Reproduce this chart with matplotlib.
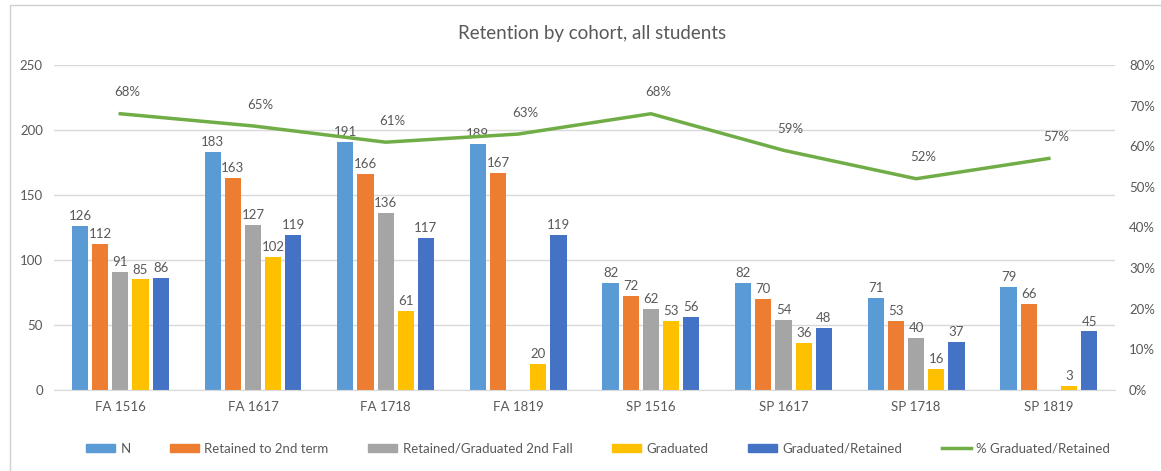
import numpy as np
import matplotlib
matplotlib.use("Agg")
import matplotlib.pyplot as plt
from matplotlib.patches import Rectangle
from matplotlib.lines import Line2D

plt.rcParams["font.family"] = ["Lato", "DejaVu Sans"]

cohorts = ["FA 1516", "FA 1617", "FA 1718", "FA 1819",
           "SP 1516", "SP 1617", "SP 1718", "SP 1819"]
n_students = [126, 183, 191, 189, 82, 82, 71, 79]
retained_2nd_term = [112, 163, 166, 167, 72, 70, 53, 66]
retained_grad_2nd_fall = [91, 127, 136, np.nan, 62, 54, 40, np.nan]
graduated = [85, 102, 61, 20, 53, 36, 16, 3]
grad_retained = [86, 119, 117, 119, 56, 48, 37, 45]
pct_grad_retained = [68, 65, 61, 63, 68, 59, 52, 57]

series = [
    ("N", n_students, "#5B9BD5"),
    ("Retained to 2nd term", retained_2nd_term, "#ED7D31"),
    ("Retained/Graduated 2nd Fall", retained_grad_2nd_fall, "#A5A5A5"),
    ("Graduated", graduated, "#FFC000"),
    ("Graduated/Retained", grad_retained, "#4472C4"),
]
line_color = "#70AD47"
txt = "#595959"
grid = "#D9D9D9"

fig = plt.figure(figsize=(11.61, 4.71), dpi=100)
# chart border
fig.patches.append(Rectangle((0.009, -0.01), 1.0, 1.0, transform=fig.transFigure,
                             fill=False, edgecolor="#D0D0D0", lw=1.0))

ax = fig.add_axes([0.0465, 0.172, 0.914, 0.69])
x = np.arange(len(cohorts))
w = 0.122
step = 0.152
for i, (name, vals, col) in enumerate(series):
    xs = x + (i - 2) * step
    ax.bar(xs, vals, width=w, color=col, zorder=2)
    for xi, v in zip(xs, vals):
        if np.isnan(v):
            continue
        ax.text(xi, v + 3, f"{int(v)}", ha="center", va="bottom",
                fontsize=9.5, color=txt)

ax.set_xlim(-0.5, len(cohorts) - 0.5)
ax.set_ylim(0, 250)
ax.set_yticks(range(0, 251, 50))
ax.set_xticks(x)
ax.set_xticklabels(cohorts)
ax.yaxis.grid(True, color=grid, lw=1, zorder=0)
ax.set_axisbelow(True)
for s in ["top", "right", "left"]:
    ax.spines[s].set_visible(False)
ax.spines["bottom"].set_color(grid)
ax.tick_params(axis="both", length=0, labelsize=9.5, colors=txt, pad=8)
ax.tick_params(axis="y", pad=8)

ax2 = ax.twinx()
ax2.plot(x, pct_grad_retained, color=line_color, lw=2.5, zorder=3)
for xi, v in zip(x, pct_grad_retained):
    ax2.annotate(f"{v}%", (xi, v), xytext=(5, 11), textcoords="offset points",
                 ha="center", va="bottom", fontsize=9.5, color=txt)
ax2.set_ylim(0, 80)
ax2.set_yticks(range(0, 81, 10))
ax2.set_yticklabels([f"{t}%" for t in range(0, 81, 10)])
ax2.tick_params(axis="y", length=0, labelsize=9.5, colors=txt, pad=10)
for s in ax2.spines.values():
    s.set_visible(False)

fig.text(0.51, 0.928, "Retention by cohort, all students", ha="center",
         va="center", fontsize=13.5, color=txt)

handles = [Rectangle((0, 0), 1, 1, color=c) for _, _, c in series]
handles.append(Line2D([0], [0], color=line_color, lw=2.5))
labels = [s[0] for s in series] + ["% Graduated/Retained"]
fig.legend(handles, labels, loc="center", bbox_to_anchor=(0.515, 0.047), ncol=6,
           frameon=False, fontsize=9.5, labelcolor=txt, handlelength=2.2,
           handleheight=0.6, columnspacing=3.0, handletextpad=0.4)

fig.savefig("out.png", dpi=100)
